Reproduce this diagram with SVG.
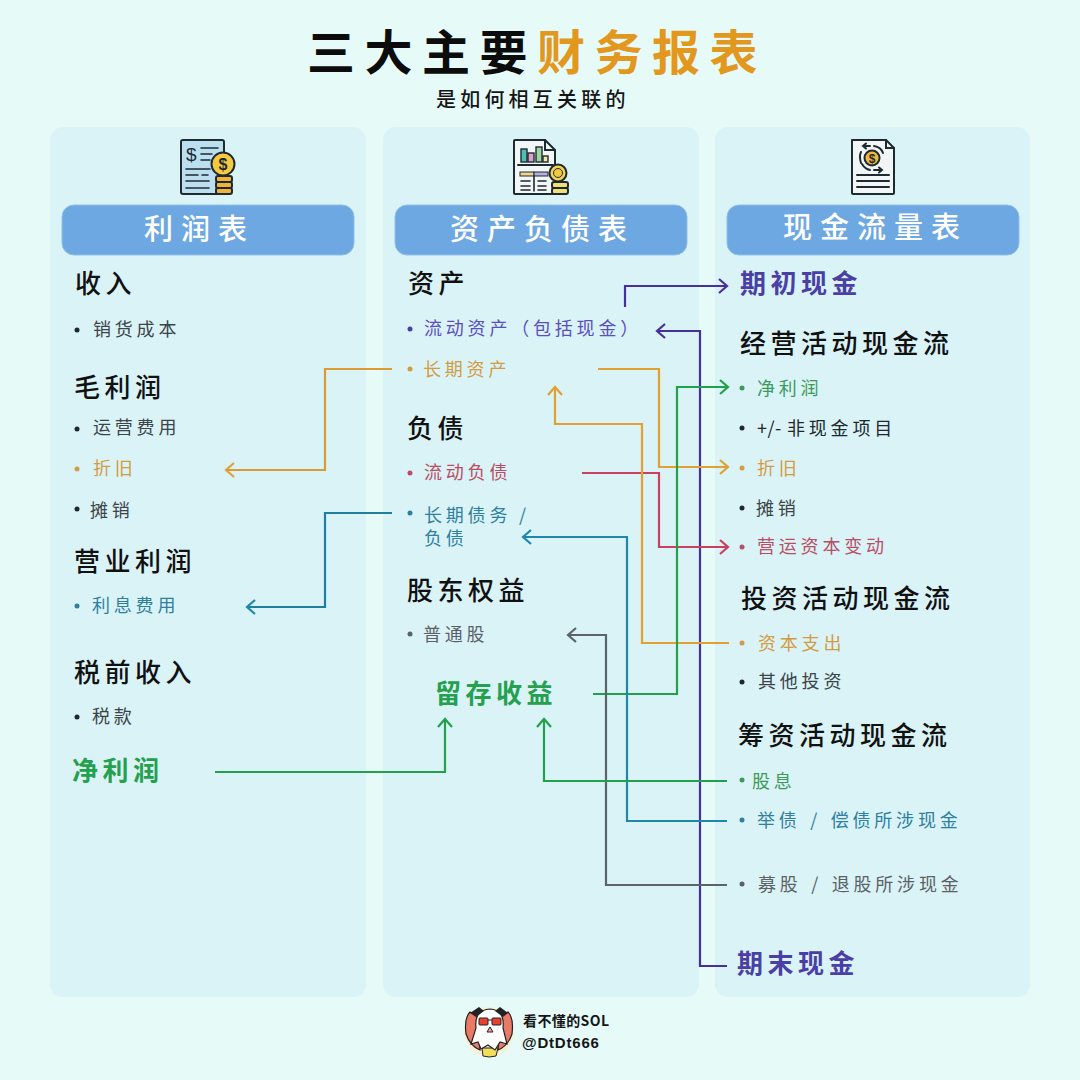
<svg xmlns="http://www.w3.org/2000/svg" width="1080" height="1080" viewBox="0 0 1080 1080">
<style>
text{font-family:"Noto Sans CJK SC","Noto Sans",sans-serif}
.h{font-size:26px;font-weight:500;letter-spacing:4.5px;fill:#111}
.b{font-size:18px;font-weight:400;letter-spacing:3.8px;fill:#3c4448}
.big{font-size:26px;font-weight:700;letter-spacing:4.5px}
.hd{font-size:29px;font-weight:500;letter-spacing:8px;fill:#fff}
.o{fill:#d39c43}.t{fill:#2f7f9f}.g{fill:#3d9a5c}.p{fill:#5a4fbd}.r{fill:#b94d63}.k{fill:#20282c}.y{fill:#5b6266}
.pg{fill:#24a04e}.pp{fill:#4b3fa6}
.panel{fill:#daf3f7}.bar{fill:#6ea8e2;stroke:#8fc0e6;stroke-width:1}
.c{fill:none;stroke-width:2.2}
.ic{stroke:#1d2a32;stroke-width:2;stroke-linejoin:round}
.il{fill:none;stroke:#1d2a32;stroke-width:2;stroke-linecap:round}
</style>
<defs>
<marker id="mp" markerUnits="userSpaceOnUse" markerWidth="24" markerHeight="24" refX="12" refY="12" orient="auto" overflow="visible"><path d="M4,5L12,12L4,19" fill="none" stroke="#47309a" stroke-width="2.2"/></marker>
<marker id="mo" markerUnits="userSpaceOnUse" markerWidth="24" markerHeight="24" refX="12" refY="12" orient="auto" overflow="visible"><path d="M4,5L12,12L4,19" fill="none" stroke="#e0a132" stroke-width="2.2"/></marker>
<marker id="mg" markerUnits="userSpaceOnUse" markerWidth="24" markerHeight="24" refX="12" refY="12" orient="auto" overflow="visible"><path d="M4,5L12,12L4,19" fill="none" stroke="#23a04c" stroke-width="2.2"/></marker>
<marker id="mr" markerUnits="userSpaceOnUse" markerWidth="24" markerHeight="24" refX="12" refY="12" orient="auto" overflow="visible"><path d="M4,5L12,12L4,19" fill="none" stroke="#c9415c" stroke-width="2.2"/></marker>
<marker id="mt" markerUnits="userSpaceOnUse" markerWidth="24" markerHeight="24" refX="12" refY="12" orient="auto" overflow="visible"><path d="M4,5L12,12L4,19" fill="none" stroke="#1f86ad" stroke-width="2.2"/></marker>
<marker id="my" markerUnits="userSpaceOnUse" markerWidth="24" markerHeight="24" refX="12" refY="12" orient="auto" overflow="visible"><path d="M4,5L12,12L4,19" fill="none" stroke="#5b6569" stroke-width="2.2"/></marker>
</defs>
<rect width="1080" height="1080" fill="#e6fbf8"/>

<g id="title">
<text x="307" y="70" font-size="48" font-weight="700" letter-spacing="9.5" fill="#0c0c0c">三大主要</text>
<text x="537" y="70" font-size="48" font-weight="700" letter-spacing="9.5" fill="#e2981f">财务报表</text>
<text x="436" y="107" font-size="20" font-weight="500" letter-spacing="4.200" fill="#151515">是如何相互关联的</text>
</g>

<g id="panels">
<rect class="panel" x="50" y="127" width="316" height="870" rx="13"/>
<rect class="panel" x="383" y="127" width="316" height="870" rx="13"/>
<rect class="panel" x="715" y="127" width="315" height="870" rx="13"/>
</g>

<g id="icon-income">
<rect class="ic" x="181" y="140" width="43" height="54" rx="2" fill="#bcdff0"/>
<text x="186" y="161" font-size="19" font-weight="400" fill="#1d2a32" style="font-family:'Liberation Sans',sans-serif">$</text>
<path class="il" d="M201 148H218M201 154H212M201 160H210M186 169H210M186 175H198M202 175H208M186 181H209M186 188H209" style="stroke-width:1.6"/>
<circle class="ic" cx="223" cy="164" r="11.5" fill="#f6c93f"/>
<text x="223" y="170" font-size="16" font-weight="700" text-anchor="middle" fill="#1d2a32" style="font-family:'Liberation Sans',sans-serif">$</text>
<rect class="ic" x="216" y="176" width="16" height="6" rx="2" fill="#efb23a"/>
<rect class="ic" x="216" y="182" width="16" height="6" rx="2" fill="#efb23a"/>
<rect class="ic" x="216" y="188" width="16" height="6" rx="2" fill="#efb23a"/>
</g>
<g id="icon-balance">
<path class="ic" d="M514 141Q514 140 515 140H545L555 150V193Q555 194 554 194H515Q514 194 514 193Z" fill="#f3f6f6"/>
<path class="il" d="M545 140V150H555"/>
<rect x="521" y="149" width="6" height="13" fill="#4dc0b0" stroke="#1d2a32" stroke-width="1.4"/>
<rect x="528" y="153" width="6" height="9" fill="#e0a0c8" stroke="#1d2a32" stroke-width="1.4"/>
<rect x="536" y="147" width="6" height="15" fill="#9ed6a0" stroke="#1d2a32" stroke-width="1.4"/>
<rect x="543" y="156" width="5" height="6" fill="#f2e6a0" stroke="#1d2a32" stroke-width="1.4"/>
<path class="il" d="M518 165H553"/>
<rect x="520" y="172" width="14" height="4" fill="#ecd58c" stroke="#1d2a32" stroke-width="1"/>
<rect x="534" y="172" width="14" height="4" fill="#b7aedc" stroke="#1d2a32" stroke-width="1"/>
<path class="il" d="M534 176V191M521 181H530M521 186H530M521 190H530M538 181H546M538 186H546M538 190H546" style="stroke-width:1.6"/>
<circle class="ic" cx="558" cy="173" r="8.5" fill="#f5d34f"/>
<circle cx="558" cy="173" r="4.5" fill="#f0c93c" stroke="#1d2a32" stroke-width="1"/>
<rect class="ic" x="552" y="182" width="16" height="6" rx="2" fill="#f1e07a"/>
<rect class="ic" x="552" y="188" width="16" height="6" rx="2" fill="#f1e07a"/>
</g>
<g id="icon-cash">
<path class="ic" d="M852 140H886L894 148V193Q894 194 893 194H853Q852 194 852 193Z" fill="#f2f5f5"/>
<path class="il" d="M886 140V148H894"/>
<circle class="ic" cx="872" cy="158" r="7.5" fill="#f4b93b"/>
<text x="872" y="162.500" font-size="12" font-weight="700" text-anchor="middle" fill="#1d2a32" style="font-family:'Liberation Sans',sans-serif">$</text>
<path class="il" d="M863 146H870M866 143.500L863 146L866 148.500M874 146Q881 147 883 153M861 163Q859 156 861 152M874 170H882M879 167.500L882 170L879 172.500M862 164Q865 169 870 170"/>
<path class="il" d="M857 175H889M857 181H889M857 187H889"/>
</g>

<g id="header-income"><rect class="bar" x="62" y="205" width="292" height="50" rx="12"/><text class="hd" x="144" y="240">利润表</text></g>
<g id="header-balance"><rect class="bar" x="395" y="205" width="292" height="50" rx="12"/><text class="hd" x="450" y="240">资产负债表</text></g>
<g id="header-cash"><rect class="bar" x="727" y="205" width="292" height="50" rx="12"/><text class="hd" x="783" y="238">现金流量表</text></g>

<g id="connectors">
<path class="c" stroke="#47309a" marker-end="url(#mp)" d="M625 307V286H727"/>
<path class="c" stroke="#47309a" marker-end="url(#mp)" d="M727 966H700V331H657"/>
<path class="c" stroke="#d99b32" marker-end="url(#mo)" d="M392 369H325V470H226"/>
<path class="c" stroke="#1f7f9f" marker-end="url(#mt)" d="M392 513H325V607H247"/>
<path class="c" stroke="#e0a132" marker-end="url(#mo)" d="M598 369H659V467H728"/>
<path class="c" stroke="#c9415c" marker-end="url(#mr)" d="M582 473H659V547H728"/>
<path class="c" stroke="#e0a132" marker-end="url(#mo)" d="M729 643H642V424H555V387"/>
<path class="c" stroke="#23a04c" marker-end="url(#mg)" d="M593 694H677V387H728"/>
<path class="c" stroke="#1f86ad" marker-end="url(#mt)" d="M727 821H627V537H523"/>
<path class="c" stroke="#5b6569" marker-end="url(#my)" d="M727 885H606V635H568"/>
<path class="c" stroke="#23a04c" marker-end="url(#mg)" d="M215 772H445V719"/>
<path class="c" stroke="#23a04c" marker-end="url(#mg)" d="M727 781H544V719"/>
</g>

<g id="income-items">
<g id="i-revenue"><text class="h" x="75" y="293">收入</text></g>
<g id="i-cogs"><circle cx="77" cy="330" r="2.500" class="k"/><text class="b" x="93" y="336">销货成本</text></g>
<g id="i-gross"><text class="h" x="74" y="397">毛利润</text></g>
<g id="i-opex"><circle cx="77" cy="429" r="2.500" class="k"/><text class="b" x="93" y="434">运营费用</text></g>
<g id="i-dep"><circle cx="77" cy="469" r="2.500" class="o"/><text class="b o" x="93" y="475">折旧</text></g>
<g id="i-amort"><circle cx="77" cy="509" r="2.500" class="k"/><text class="b" x="90" y="517">摊销</text></g>
<g id="i-op"><text class="h" x="74" y="571">营业利润</text></g>
<g id="i-int"><circle cx="77" cy="606" r="2.500" class="t"/><text class="b t" x="92" y="612">利息费用</text></g>
<g id="i-ebt"><text class="h" x="74" y="682">税前收入</text></g>
<g id="i-tax"><circle cx="77" cy="717" r="2.500" class="k"/><text class="b" x="92" y="723">税款</text></g>
<g id="i-net"><text class="big pg" x="72" y="780">净利润</text></g>
</g>

<g id="balance-items">
<g id="b-assets"><text class="h" x="408" y="293">资产</text></g>
<g id="b-ca"><circle cx="410" cy="329" r="2.500" class="pp"/><text class="b p" x="424" y="335">流动资产（包括现金）</text></g>
<g id="b-lta"><circle cx="410" cy="369" r="2.500" class="o"/><text class="b o" x="423" y="376">长期资产</text></g>
<g id="b-liab"><text class="h" x="407" y="438">负债</text></g>
<g id="b-cl"><circle cx="410" cy="473" r="2.500" class="r"/><text class="b r" x="424" y="479">流动负债</text></g>
<g id="b-ltd"><circle cx="410" cy="513" r="2.500" class="t"/><text class="b t"><tspan x="424" y="522">长期债务 /</tspan><tspan x="424" y="545">负债</tspan></text></g>
<g id="b-eq"><text class="h" x="407" y="600">股东权益</text></g>
<g id="b-cs"><circle cx="410" cy="634" r="2.500" class="y"/><text class="b y" x="423" y="641">普通股</text></g>
<g id="b-re"><text class="big pg" x="435" y="703">留存收益</text></g>
</g>

<g id="cash-items">
<g id="c-open"><text class="big pp" x="740" y="293">期初现金</text></g>
<g id="c-cfo"><text class="h" x="740" y="353">经营活动现金流</text></g>
<g id="c-ni"><circle cx="742" cy="388" r="2.500" class="g"/><text class="b g" x="757" y="395">净利润</text></g>
<g id="c-nc"><circle cx="742" cy="428" r="2.500" class="k"/><text class="b k" x="757" y="435"><tspan letter-spacing="0.500">+/-</tspan><tspan x="787">非现金项目</tspan></text></g>
<g id="c-dep"><circle cx="742" cy="468" r="2.500" class="o"/><text class="b o" x="757" y="475">折旧</text></g>
<g id="c-am"><circle cx="742" cy="508" r="2.500" class="k"/><text class="b" x="756" y="515">摊销</text></g>
<g id="c-wc"><circle cx="742" cy="547" r="2.500" class="r"/><text class="b r" x="757" y="553">营运资本变动</text></g>
<g id="c-cfi"><text class="h" x="741" y="608">投资活动现金流</text></g>
<g id="c-capex"><circle cx="742" cy="643" r="2.500" class="o"/><text class="b o" x="758" y="650">资本支出</text></g>
<g id="c-oi"><circle cx="742" cy="682" r="2.500" class="k"/><text class="b" x="758" y="688">其他投资</text></g>
<g id="c-cff"><text class="h" x="738" y="745">筹资活动现金流</text></g>
<g id="c-div"><circle cx="742" cy="780" r="2.500" class="g"/><text class="b g" x="752" y="788">股息</text></g>
<g id="c-debt"><circle cx="742" cy="820" r="2.500" class="t"/><text class="b t" x="757" y="827" word-spacing="1.800">举债 / 偿债所涉现金</text></g>
<g id="c-stock"><circle cx="742" cy="884" r="2.500" class="y"/><text class="b y" x="758" y="891" word-spacing="1.800">募股 / 退股所涉现金</text></g>
<g id="c-close"><text class="big pp" x="737" y="973">期末现金</text></g>
</g>

<g id="footer">
<circle cx="489" cy="1032" r="25" fill="#f6f0d8"/>
<path d="M466 1034Q464 1018 470 1012L477 1016L480 1050Q470 1046 466 1034Z" fill="#ea7a68" stroke="#222" stroke-width="1.200"/>
<path d="M512 1034Q514 1018 508 1012L501 1016L498 1050Q508 1046 512 1034Z" fill="#ea7a68" stroke="#222" stroke-width="1.200"/>
<path d="M482 1048H498L496 1056Q489 1058 483 1056Z" fill="#f2de5a" stroke="#222"/>
<path d="M476 1028Q474 1010 490 1009Q505 1010 503 1028L507 1044L500 1042L495 1050L488 1045L481 1049L478 1042L471 1044Z" fill="#fff" stroke="#222" stroke-width="1.200"/>
<path d="M470 1013L479 1007L484 1011L476 1017ZM508 1013L500 1007L495 1011L503 1017Z" fill="#222"/>
<rect x="479" y="1018" width="9" height="7" rx="1" fill="#e8412c" stroke="#222"/>
<rect x="492" y="1018" width="9" height="7" rx="1" fill="#e8412c" stroke="#222"/>
<path d="M488 1020H492" stroke="#222"/>
<path d="M490 1027L487 1032H493Z" fill="#f3a69a" stroke="#222"/>
<text x="523" y="1026" font-size="14" font-weight="700" letter-spacing="0.400" fill="#151515">看不懂的SOL</text>
<text x="522" y="1048" font-size="15" font-weight="700" letter-spacing="0.800" fill="#151515" style="font-family:'Liberation Sans','Noto Sans',sans-serif">@DtDt666</text>
</g>
</svg>
